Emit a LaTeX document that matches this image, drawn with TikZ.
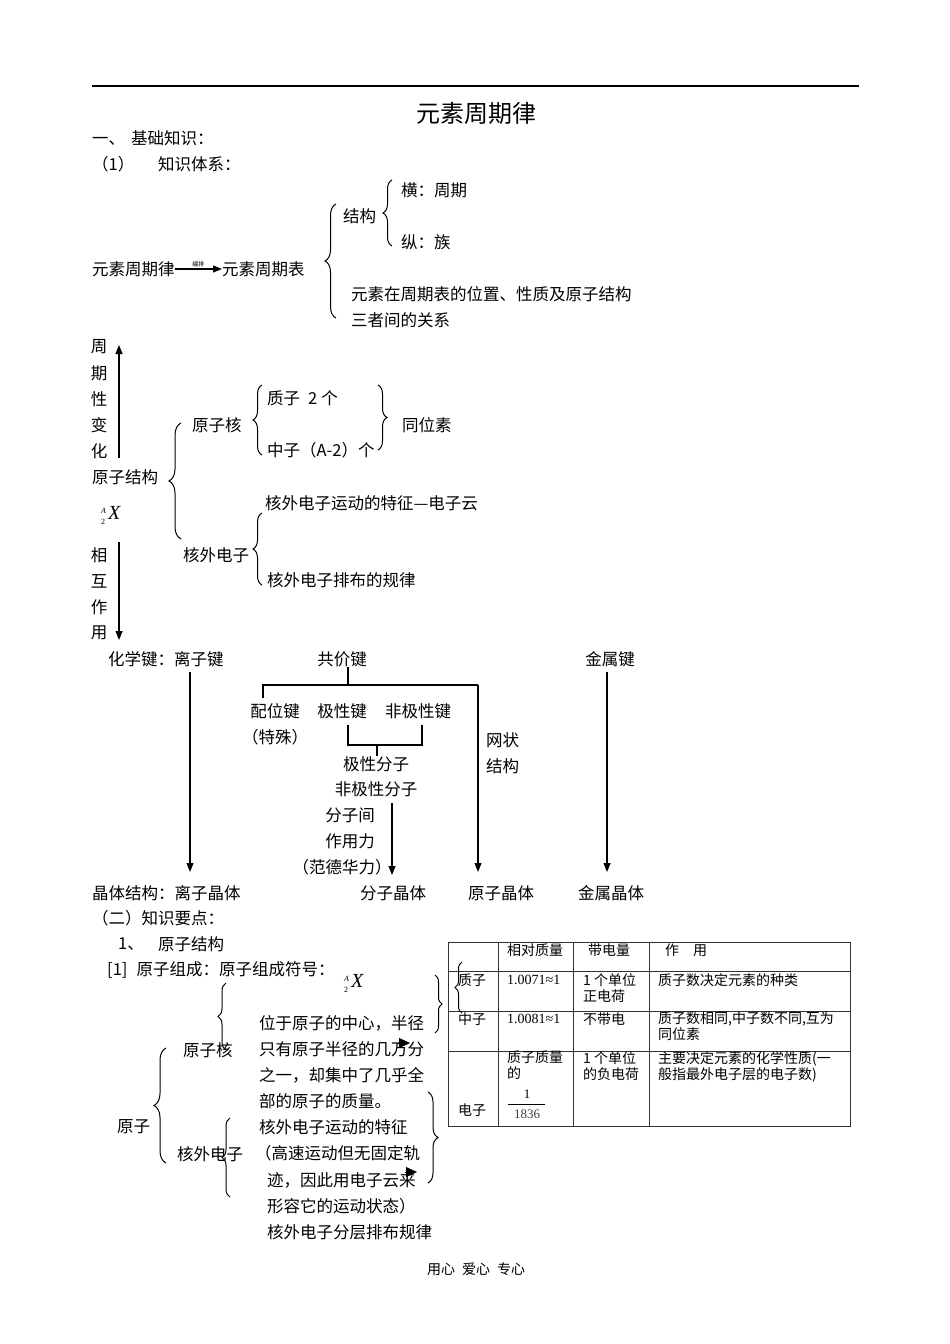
\documentclass[tikz,border=0pt]{standalone}
\usepackage{fontspec}
\setmainfont{Liberation Serif}
\newfontfamily\cjk{Noto Sans CJK SC}
\usetikzlibrary{arrows.meta,decorations.pathreplacing}
\newcommand\nuclide{\rmfamily\rlap{\raisebox{6pt}{\fontsize{8}{8}\selectfont\itshape A}}%
  \raisebox{-5pt}{\fontsize{8}{8}\selectfont 2}\hspace{3pt}{\fontsize{20}{20}\selectfont\itshape X}}

\begin{document}
\begin{tikzpicture}[x=1pt, y=-1pt, >={Triangle[length=9pt,width=7pt]},
    txt/.style={font=\cjk\fontsize{16.5}{20}\selectfont, inner sep=0pt, anchor=west},
    ctxt/.style={font=\cjk\fontsize{16.5}{20}\selectfont, inner sep=0pt},
    cell/.style={font=\cjk\fontsize{14}{16}\selectfont, inner sep=0pt, anchor=west, align=left},
    num/.style={font=\fontsize{14}{16}\selectfont, inner sep=0pt, anchor=west},
    ln/.style={line width=1.1pt},
    grid/.style={line width=0.9pt, black!80},
    brc/.style={line width=1pt, decorate, decoration={brace, amplitude=#1}},
    brc/.default=9pt]

  \useasboundingbox (0,0) rectangle (950,1344);

  % 1. 标题
  \draw[line width=1.2pt] (92,86) -- (859,86);
  \node[font=\cjk\fontsize{24}{28}\selectfont] (title) at (476,113) {元素周期律};
  \node[txt] (jc) at (92,138) {一、\hspace{6pt}基础知识：};
  \node[txt] (num1) at (92,164) {（1）};
  \node[txt] (tx) at (158,164) {知识体系：};

  % 2. 周期律与周期表
  \node[txt] (law) at (92,269) {元素周期律};
  \node[txt] (ptab) at (222,269) {元素周期表};
  \draw[ln,->] (law.east) -- (ptab.west)
    node[midway, above=1pt, font=\cjk\fontsize{6}{6}\selectfont, inner sep=0pt] {编排};
  \draw[brc=11pt] (336,318) -- (336,204);
  \node[txt] (jg) at (343,216) {结构};
  \draw[brc] (392,246) -- (392,180);
  \node[txt] (heng) at (401,190) {横：周期};
  \node[txt] (zong) at (401,242) {纵：族};
  \node[txt] (pos1) at (351,294) {元素在周期表的位置、性质及原子结构};
  \node[txt] (pos2) at (351,320) {三者间的关系};

  % 3. 原子结构
  \foreach \c [count=\i] in {周,期,性,变,化}
    \node[ctxt] (zq\i) at (99,{321+26*\i}) {\c};
  \foreach \c [count=\i] in {相,互,作,用}
    \node[ctxt] (xh\i) at (99,{529+26*\i}) {\c};
  \node[txt] (yzjg) at (92,477) {原子结构};
  \node[txt] (sym1) at (101,515) {\nuclide};
  \coordinate (upS) at (119,458);
  \coordinate (upE) at (119,345);
  \draw[ln,->] (upS) -- (upE);
  \coordinate (dnS) at (119,542);
  \coordinate (dnE) at (119,640);
  \draw[ln,->] (dnS) -- (dnE);

  \draw[brc=12pt] (181,539) -- (181,423);
  \node[txt] (yzh) at (192,425) {原子核};
  \node[txt] (hwdz) at (183,555) {核外电子};
  \draw[brc] (262,455) -- (262,385);
  \node[txt] (zz) at (267,398) {质子\hspace{8pt}2\hspace{4pt}个};
  \node[txt] (dz) at (267,450) {中子（A-2）个};
  \draw[brc] (378,385) -- (378,450);
  \node[txt] (tws) at (402,425) {同位素};
  \node[txt] (dzy) at (265,503) {核外电子运动的特征—电子云};
  \draw[brc] (262,585) -- (262,513);
  \node[txt] (plgl) at (267,580) {核外电子排布的规律};

  % 4. 化学键与晶体
  \node[txt] (hxj) at (108,659) {化学键：离子键};
  \node[ctxt] (gjj) at (342,659) {共价键};
  \node[ctxt] (jsj) at (610,659) {金属键};
  \node[ctxt] (pwj) at (275,711) {配位键};
  \node[ctxt] (ts) at (275,737) {（特殊）};
  \node[ctxt] (jxj) at (342,711) {极性键};
  \node[ctxt] (fjxj) at (418,711) {非极性键};
  \node[txt] (wz1) at (486,740) {网状};
  \node[txt] (wz2) at (486,766) {结构};
  \node[ctxt] (jxfz) at (376,764) {极性分子};
  \node[ctxt] (fjxfz) at (376,789) {非极性分子};
  \node[ctxt] (fzj1) at (350,815) {分子间};
  \node[ctxt] (fzj2) at (350,841) {作用力};
  \node[ctxt] (fdh) at (342,867) {（范德华力）};
  \node[txt] (jtjg) at (92,893) {晶体结构：离子晶体};
  \node[txt] (fzjt) at (360,893) {分子晶体};
  \node[txt] (yzjt) at (468,893) {原子晶体};
  \node[txt] (jsjt) at (578,893) {金属晶体};

  \coordinate (gjMid) at (348,685);
  \coordinate (pwTop) at (263,698);
  \coordinate (wzTop) at (478,685);
  \draw[ln] (gjj.south -| gjMid) -- (gjMid);
  \draw[ln] (pwTop) |- (wzTop);
  \draw[ln] (348,725) |- (422,745) -- (422,725);
  \draw[ln] (377,745) -- (jxfz.north -| 377,0);
  \coordinate (lzS) at (190,672);  \coordinate (lzE) at (190,872);
  \coordinate (wzE) at (478,872);
  \coordinate (jsS) at (607,672);  \coordinate (jsE) at (607,872);
  \coordinate (fzS) at (392,803);  \coordinate (fzE) at (392,875);
  \draw[ln,->] (lzS) -- (lzE);
  \draw[ln,->] (wzTop) -- (wzE);
  \draw[ln,->] (jsS) -- (jsE);
  \draw[ln,->] (fzS) -- (fzE);

  % 5. 知识要点
  \node[txt] (zsyd) at (92,918) {（二）知识要点：};
  \node[txt] (n1) at (118,944) {1、};
  \node[txt] (yzjg2) at (158,944) {原子结构};
  \node[txt] (zc) at (107,970) {[1]\hspace{9pt}原子组成：原子组成符号：};
  \node[txt] (sym2) at (344,983) {\nuclide};
  \node[txt] (yz) at (117,1127) {原子};
  \draw[brc=12pt] (166,1163) -- (166,1048);
  \node[txt] (yzh2) at (183,1050) {原子核};
  \node[txt] (hwdz2) at (177,1154) {核外电子};
  \draw[brc=8pt] (226,1050) -- (226,983);
  \draw[brc=8pt] (230,1197) -- (230,1118);
  \foreach \t [count=\i] in {位于原子的中心，半径, 只有原子半径的几万分,
      之一，却集中了几乎全, 部的原子的质量。, 核外电子运动的特征}
    \node[txt] (hd\i) at (259,{997+26*\i}) {\t};
  \node[txt] (gs1) at (255,1153) {（高速运动但无固定轨};
  \node[txt] (gs2) at (267,1180) {迹，因此用电子云来};
  \node[txt] (gs3) at (267,1206) {形容它的运动状态）};
  \node[txt] (fc) at (267,1232) {核外电子分层排布规律};
  \draw[brc=7pt] (435,975) -- (435,1033);
  \draw[brc=10pt] (428,1092) -- (428,1183);
  \draw[-{Triangle[length=11pt,width=10pt]}] (398,1043) -- (410,1043);
  \draw[-{Triangle[length=11pt,width=10pt]}] (405,1172) -- (417,1172);

  % 6. 表格
  \draw[grid] (448,942) rectangle (850,1126);
  \foreach \x in {498,573,649}
    \draw[grid] (\x,942) -- (\x,1126);
  \foreach \y in {971,1011,1051}
    \draw[grid] (448,\y) -- (850,\y);
  \draw[brc=7pt] (462,1013) -- (462,962);
  \node[cell] (hxdl) at (507,950) {相对质量};
  \node[cell] (ddl) at (588,950) {带电量};
  \node[cell] (zy) at (665,950) {作\hspace{14pt}用};
  \node[cell] (rp) at (458,980) {质子};
  \node[num] (mp) at (507,980) {1.0071≈1};
  \node[cell, anchor=north west] (qp) at (583,973) {1 个单位\\正电荷};
  \node[cell] (fp) at (658,980) {质子数决定元素的种类};
  \node[cell] (rn) at (458,1019) {中子};
  \node[num] (mn) at (507,1019) {1.0081≈1};
  \node[cell] (qn) at (583,1019) {不带电};
  \node[cell, anchor=north west] (fn) at (658,1012) {质子数相同,中子数不同,互为\\同位素};
  \node[cell] (re) at (458,1110) {电子};
  \node[cell, anchor=north west] (me) at (507,1051) {质子质量\\的};
  \node[font=\fontsize{13}{15}\selectfont, inner sep=0pt] (fr1) at (527,1094) {1};
  \node[font=\fontsize{13}{15}\selectfont, inner sep=0pt, black!75] (fr2) at (527,1114) {1836};
  \draw[line width=0.8pt] (508,1104) -- (545,1104);
  \node[cell, anchor=north west] (qe) at (583,1051) {1 个单位\\的负电荷};
  \node[cell, anchor=north west] (fe) at (658,1051) {主要决定元素的化学性质(一\\般指最外电子层的电子数)};

  % 7. 页脚
  \node[font=\cjk\fontsize{14}{16}\selectfont] (foot) at (476,1269) {用心\hspace{7pt}爱心\hspace{7pt}专心};

\end{tikzpicture}
\end{document}
